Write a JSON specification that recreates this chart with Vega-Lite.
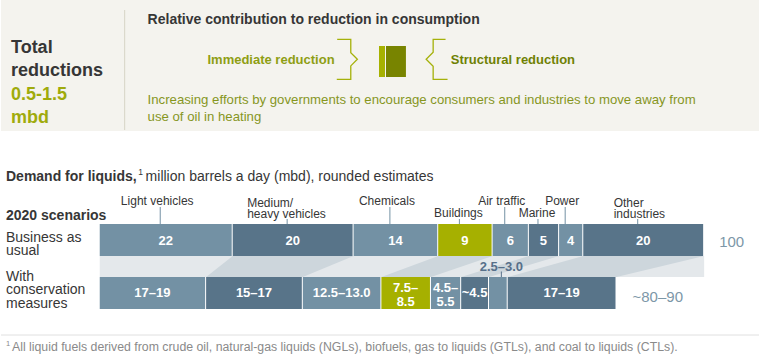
{
  "$schema": "https://vega.github.io/schema/vega-lite/v6.json",
  "width": 760,
  "height": 360,
  "autosize": {"type": "fit", "contains": "padding"},
  "padding": 0,
  "background": "#ffffff",
  "config": {"view": {"stroke": null}, "font": "Liberation Sans", "text": {"font": "Liberation Sans"}},
  "datasets": {
    "one": [{}],
    "demand": [
      {"scenario": "Business as usual", "order": 1, "cat": "Light vehicles", "value": 22, "label": "22"},
      {"scenario": "Business as usual", "order": 2, "cat": "Medium/\nheavy vehicles", "value": 20, "label": "20"},
      {"scenario": "Business as usual", "order": 3, "cat": "Chemicals", "value": 14, "label": "14"},
      {"scenario": "Business as usual", "order": 4, "cat": "Buildings", "value": 9, "label": "9"},
      {"scenario": "Business as usual", "order": 5, "cat": "Air traffic", "value": 6, "label": "6"},
      {"scenario": "Business as usual", "order": 6, "cat": "Marine", "value": 5, "label": "5"},
      {"scenario": "Business as usual", "order": 7, "cat": "Power", "value": 4, "label": "4"},
      {"scenario": "Business as usual", "order": 8, "cat": "Other\nindustries", "value": 20, "label": "20"},
      {"scenario": "With conservation measures", "order": 1, "cat": "Light vehicles", "value": 17.6, "label": "17–19"},
      {"scenario": "With conservation measures", "order": 2, "cat": "Medium/\nheavy vehicles", "value": 16, "label": "15–17"},
      {"scenario": "With conservation measures", "order": 3, "cat": "Chemicals", "value": 13, "label": "12.5–13.0"},
      {"scenario": "With conservation measures", "order": 4, "cat": "Buildings", "value": 8.2, "label": "7.5–\n8.5"},
      {"scenario": "With conservation measures", "order": 5, "cat": "Air traffic", "value": 5, "label": "4.5–\n5.5"},
      {"scenario": "With conservation measures", "order": 6, "cat": "Marine", "value": 4.6, "label": "~4.5"},
      {"scenario": "With conservation measures", "order": 7, "cat": "Power", "value": 3.1, "label": "2.5–3.0"},
      {"scenario": "With conservation measures", "order": 8, "cat": "Other\nindustries", "value": 18, "label": "17–19"}
    ]
  },
  "resolve": {"scale": {"x": "independent", "y": "independent", "color": "independent"}},
  "layer": [
    {
      "data": {"name": "one"},
      "layer": [
        {"mark": {"type": "rect", "fill": "#f4f3ee"},
         "encoding": {"x": {"datum": 0, "type": "quantitative", "scale": {"domain": [0, 760], "nice": false, "zero": false}, "axis": null},
                      "x2": {"datum": 760},
                      "y": {"datum": 0, "type": "quantitative", "scale": {"domain": [0, 360], "reverse": true, "nice": false, "zero": false}, "axis": null},
                      "y2": {"datum": 131}}},
        {"mark": {"type": "rule", "stroke": "#d6d4c6", "strokeWidth": 1},
         "encoding": {"x": {"datum": 124, "type": "quantitative", "scale": {"domain": [0, 760], "nice": false, "zero": false}, "axis": null},
                      "y": {"datum": 10, "type": "quantitative", "scale": {"domain": [0, 360], "reverse": true, "nice": false, "zero": false}, "axis": null},
                      "y2": {"datum": 130}}},
        {"mark": {"type": "rect", "fill": "#e4e8eb"},
         "encoding": {"x": {"datum": 99, "type": "quantitative", "scale": {"domain": [0, 760], "nice": false, "zero": false}, "axis": null},
                      "x2": {"datum": 705},
                      "y": {"datum": 256, "type": "quantitative", "scale": {"domain": [0, 360], "reverse": true, "nice": false, "zero": false}, "axis": null},
                      "y2": {"datum": 277}}},
        {"mark": {"type": "rule", "stroke": "#e0e0e0", "strokeWidth": 1},
         "encoding": {"x": {"datum": 0, "type": "quantitative", "scale": {"domain": [0, 760], "nice": false, "zero": false}, "axis": null},
                      "x2": {"datum": 760},
                      "y": {"datum": 335, "type": "quantitative", "scale": {"domain": [0, 360], "reverse": true, "nice": false, "zero": false}, "axis": null}}},
        {"mark": {"type": "rect", "fill": "#a6b100"},
         "encoding": {"x": {"datum": 379, "type": "quantitative", "scale": {"domain": [0, 760], "nice": false, "zero": false}, "axis": null},
                      "x2": {"datum": 385},
                      "y": {"datum": 46, "type": "quantitative", "scale": {"domain": [0, 360], "reverse": true, "nice": false, "zero": false}, "axis": null},
                      "y2": {"datum": 77}}},
        {"mark": {"type": "rect", "fill": "#788400"},
         "encoding": {"x": {"datum": 386, "type": "quantitative", "scale": {"domain": [0, 760], "nice": false, "zero": false}, "axis": null},
                      "x2": {"datum": 406},
                      "y": {"datum": 46, "type": "quantitative", "scale": {"domain": [0, 360], "reverse": true, "nice": false, "zero": false}, "axis": null},
                      "y2": {"datum": 77}}},
        {"mark": {"type": "point", "shape": "M -0.68 -1 L 0 -1 L 0 -0.33 L 0.33 0 L 0 0.33 L 0 1 L -0.7 1", "size": 1600, "filled": false, "stroke": "#a5b10a", "strokeWidth": 1.3, "opacity": 1},
         "encoding": {"x": {"datum": 350.7, "type": "quantitative", "scale": {"domain": [0, 760], "nice": false, "zero": false}, "axis": null},
                      "y": {"datum": 59.3, "type": "quantitative", "scale": {"domain": [0, 360], "reverse": true, "nice": false, "zero": false}, "axis": null}}},
        {"mark": {"type": "point", "shape": "M 0.62 -1 L 0 -1 L 0 -0.35 L -0.35 0 L 0 0.35 L 0 1 L 0.72 1", "size": 1600, "filled": false, "stroke": "#a5b10a", "strokeWidth": 1.3, "opacity": 1},
         "encoding": {"x": {"datum": 433.3, "type": "quantitative", "scale": {"domain": [0, 760], "nice": false, "zero": false}, "axis": null},
                      "y": {"datum": 59.3, "type": "quantitative", "scale": {"domain": [0, 360], "reverse": true, "nice": false, "zero": false}, "axis": null}}},
        {"mark": {"type": "text", "align": "left", "baseline": "alphabetic", "fontSize": 18, "fontWeight": "bold", "color": "#363636"},
         "encoding": {"x": {"datum": 10, "type": "quantitative", "scale": {"domain": [0, 760], "nice": false, "zero": false}, "axis": null},
                      "y": {"datum": 53.3, "type": "quantitative", "scale": {"domain": [0, 360], "reverse": true, "nice": false, "zero": false}, "axis": null},
                      "text": {"value": "Total"}}},
        {"mark": {"type": "text", "align": "left", "baseline": "alphabetic", "fontSize": 18, "fontWeight": "bold", "color": "#363636"},
         "encoding": {"x": {"datum": 10, "type": "quantitative", "scale": {"domain": [0, 760], "nice": false, "zero": false}, "axis": null},
                      "y": {"datum": 76.3, "type": "quantitative", "scale": {"domain": [0, 360], "reverse": true, "nice": false, "zero": false}, "axis": null},
                      "text": {"value": "reductions"}}},
        {"mark": {"type": "text", "align": "left", "baseline": "alphabetic", "fontSize": 18, "fontWeight": "bold", "color": "#9fab0c"},
         "encoding": {"x": {"datum": 10, "type": "quantitative", "scale": {"domain": [0, 760], "nice": false, "zero": false}, "axis": null},
                      "y": {"datum": 100, "type": "quantitative", "scale": {"domain": [0, 360], "reverse": true, "nice": false, "zero": false}, "axis": null},
                      "text": {"value": "0.5-1.5"}}},
        {"mark": {"type": "text", "align": "left", "baseline": "alphabetic", "fontSize": 18, "fontWeight": "bold", "color": "#9fab0c"},
         "encoding": {"x": {"datum": 10, "type": "quantitative", "scale": {"domain": [0, 760], "nice": false, "zero": false}, "axis": null},
                      "y": {"datum": 122.5, "type": "quantitative", "scale": {"domain": [0, 360], "reverse": true, "nice": false, "zero": false}, "axis": null},
                      "text": {"value": "mbd"}}},
        {"mark": {"type": "text", "align": "left", "baseline": "alphabetic", "fontSize": 14, "fontWeight": "bold", "color": "#363636"},
         "encoding": {"x": {"datum": 147, "type": "quantitative", "scale": {"domain": [0, 760], "nice": false, "zero": false}, "axis": null},
                      "y": {"datum": 24, "type": "quantitative", "scale": {"domain": [0, 360], "reverse": true, "nice": false, "zero": false}, "axis": null},
                      "text": {"value": "Relative contribution to reduction in consumption"}}},
        {"mark": {"type": "text", "align": "left", "baseline": "alphabetic", "fontSize": 13, "fontWeight": "bold", "color": "#8e9e14"},
         "encoding": {"x": {"datum": 207, "type": "quantitative", "scale": {"domain": [0, 760], "nice": false, "zero": false}, "axis": null},
                      "y": {"datum": 64.3, "type": "quantitative", "scale": {"domain": [0, 360], "reverse": true, "nice": false, "zero": false}, "axis": null},
                      "text": {"value": "Immediate reduction"}}},
        {"mark": {"type": "text", "align": "left", "baseline": "alphabetic", "fontSize": 13, "fontWeight": "bold", "color": "#6f8104"},
         "encoding": {"x": {"datum": 451, "type": "quantitative", "scale": {"domain": [0, 760], "nice": false, "zero": false}, "axis": null},
                      "y": {"datum": 63.5, "type": "quantitative", "scale": {"domain": [0, 360], "reverse": true, "nice": false, "zero": false}, "axis": null},
                      "text": {"value": "Structural reduction"}}},
        {"mark": {"type": "text", "align": "left", "baseline": "alphabetic", "fontSize": 13.2, "color": "#86961e"},
         "encoding": {"x": {"datum": 147, "type": "quantitative", "scale": {"domain": [0, 760], "nice": false, "zero": false}, "axis": null},
                      "y": {"datum": 104, "type": "quantitative", "scale": {"domain": [0, 360], "reverse": true, "nice": false, "zero": false}, "axis": null},
                      "text": {"value": "Increasing efforts by governments to encourage consumers and industries to move away from"}}},
        {"mark": {"type": "text", "align": "left", "baseline": "alphabetic", "fontSize": 13.2, "color": "#86961e"},
         "encoding": {"x": {"datum": 147, "type": "quantitative", "scale": {"domain": [0, 760], "nice": false, "zero": false}, "axis": null},
                      "y": {"datum": 120.5, "type": "quantitative", "scale": {"domain": [0, 360], "reverse": true, "nice": false, "zero": false}, "axis": null},
                      "text": {"value": "use of oil in heating"}}},
        {"mark": {"type": "text", "align": "left", "baseline": "alphabetic", "fontSize": 14, "fontWeight": "bold", "color": "#363636"},
         "encoding": {"x": {"datum": 5, "type": "quantitative", "scale": {"domain": [0, 760], "nice": false, "zero": false}, "axis": null},
                      "y": {"datum": 180.7, "type": "quantitative", "scale": {"domain": [0, 360], "reverse": true, "nice": false, "zero": false}, "axis": null},
                      "text": {"value": "Demand for liquids,"}}},
        {"mark": {"type": "text", "align": "left", "baseline": "alphabetic", "fontSize": 8.5, "color": "#363636"},
         "encoding": {"x": {"datum": 137.5, "type": "quantitative", "scale": {"domain": [0, 760], "nice": false, "zero": false}, "axis": null},
                      "y": {"datum": 175, "type": "quantitative", "scale": {"domain": [0, 360], "reverse": true, "nice": false, "zero": false}, "axis": null},
                      "text": {"value": "1"}}},
        {"mark": {"type": "text", "align": "left", "baseline": "alphabetic", "fontSize": 14, "color": "#363636"},
         "encoding": {"x": {"datum": 145, "type": "quantitative", "scale": {"domain": [0, 760], "nice": false, "zero": false}, "axis": null},
                      "y": {"datum": 180.7, "type": "quantitative", "scale": {"domain": [0, 360], "reverse": true, "nice": false, "zero": false}, "axis": null},
                      "text": {"value": "million barrels a day (mbd), rounded estimates"}}},
        {"mark": {"type": "text", "align": "left", "baseline": "alphabetic", "fontSize": 14, "fontWeight": "bold", "color": "#363636"},
         "encoding": {"x": {"datum": 5, "type": "quantitative", "scale": {"domain": [0, 760], "nice": false, "zero": false}, "axis": null},
                      "y": {"datum": 220, "type": "quantitative", "scale": {"domain": [0, 360], "reverse": true, "nice": false, "zero": false}, "axis": null},
                      "text": {"value": "2020 scenarios"}}},
        {"mark": {"type": "text", "align": "left", "baseline": "alphabetic", "fontSize": 14, "color": "#363636"},
         "encoding": {"x": {"datum": 5, "type": "quantitative", "scale": {"domain": [0, 760], "nice": false, "zero": false}, "axis": null},
                      "y": {"datum": 241.7, "type": "quantitative", "scale": {"domain": [0, 360], "reverse": true, "nice": false, "zero": false}, "axis": null},
                      "text": {"value": "Business as"}}},
        {"mark": {"type": "text", "align": "left", "baseline": "alphabetic", "fontSize": 14, "color": "#363636"},
         "encoding": {"x": {"datum": 5, "type": "quantitative", "scale": {"domain": [0, 760], "nice": false, "zero": false}, "axis": null},
                      "y": {"datum": 255.3, "type": "quantitative", "scale": {"domain": [0, 360], "reverse": true, "nice": false, "zero": false}, "axis": null},
                      "text": {"value": "usual"}}},
        {"mark": {"type": "text", "align": "left", "baseline": "alphabetic", "fontSize": 14, "color": "#363636"},
         "encoding": {"x": {"datum": 5, "type": "quantitative", "scale": {"domain": [0, 760], "nice": false, "zero": false}, "axis": null},
                      "y": {"datum": 280.7, "type": "quantitative", "scale": {"domain": [0, 360], "reverse": true, "nice": false, "zero": false}, "axis": null},
                      "text": {"value": "With"}}},
        {"mark": {"type": "text", "align": "left", "baseline": "alphabetic", "fontSize": 14, "color": "#363636"},
         "encoding": {"x": {"datum": 5, "type": "quantitative", "scale": {"domain": [0, 760], "nice": false, "zero": false}, "axis": null},
                      "y": {"datum": 294.3, "type": "quantitative", "scale": {"domain": [0, 360], "reverse": true, "nice": false, "zero": false}, "axis": null},
                      "text": {"value": "conservation"}}},
        {"mark": {"type": "text", "align": "left", "baseline": "alphabetic", "fontSize": 14, "color": "#363636"},
         "encoding": {"x": {"datum": 5, "type": "quantitative", "scale": {"domain": [0, 760], "nice": false, "zero": false}, "axis": null},
                      "y": {"datum": 308.3, "type": "quantitative", "scale": {"domain": [0, 360], "reverse": true, "nice": false, "zero": false}, "axis": null},
                      "text": {"value": "measures"}}},
        {"mark": {"type": "text", "align": "left", "baseline": "alphabetic", "fontSize": 7.5, "color": "#8a8a8a"},
         "encoding": {"x": {"datum": 5, "type": "quantitative", "scale": {"domain": [0, 760], "nice": false, "zero": false}, "axis": null},
                      "y": {"datum": 346, "type": "quantitative", "scale": {"domain": [0, 360], "reverse": true, "nice": false, "zero": false}, "axis": null},
                      "text": {"value": "1"}}},
        {"mark": {"type": "text", "align": "left", "baseline": "alphabetic", "fontSize": 12.3, "color": "#8a8a8a"},
         "encoding": {"x": {"datum": 11, "type": "quantitative", "scale": {"domain": [0, 760], "nice": false, "zero": false}, "axis": null},
                      "y": {"datum": 351, "type": "quantitative", "scale": {"domain": [0, 360], "reverse": true, "nice": false, "zero": false}, "axis": null},
                      "text": {"value": "All liquid fuels derived from crude oil, natural-gas liquids (NGLs), biofuels, gas to liquids (GTLs), and coal to liquids (CTLs)."}}}
      ]
    },
    {
      "data": {"name": "demand"},
      "transform": [
        {"stack": "value", "groupby": ["scenario"], "sort": [{"field": "order", "order": "ascending"}], "as": ["start", "end"]},
        {"filter": {"field": "cat", "oneOf": ["Medium/\nheavy vehicles", "Buildings", "Marine", "Other\nindustries"]}}
      ],
      "mark": {"type": "area", "orient": "horizontal", "fill": "#cdd6dc", "opacity": 1},
      "encoding": {
        "y": {"field": "scenario", "type": "nominal", "scale": {"type": "point", "domain": ["Business as usual", "With conservation measures"], "range": [256, 277], "padding": 0}, "axis": null},
        "x": {"field": "start", "type": "quantitative", "stack": null, "scale": {"domain": [-16.337, 109.076], "nice": false, "zero": false}, "axis": null},
        "x2": {"field": "end"},
        "detail": {"field": "cat"}
      }
    },
    {
      "data": {"name": "demand"},
      "transform": [
        {"stack": "value", "groupby": ["scenario"], "sort": [{"field": "order", "order": "ascending"}], "as": ["start", "end"]}
      ],
      "layer": [
        {"transform": [{"filter": {"field": "scenario", "equal": "Business as usual"}}],
         "mark": {"type": "rect", "x2Offset": -1},
         "encoding": {"x": {"field": "start", "type": "quantitative", "scale": {"domain": [-16.337, 109.076], "nice": false, "zero": false}, "axis": null},
                      "x2": {"field": "end"},
                      "y": {"datum": 224, "type": "quantitative", "scale": {"domain": [0, 360], "reverse": true, "nice": false, "zero": false}, "axis": null},
                      "y2": {"datum": 256},
                      "color": {"field": "cat", "type": "nominal", "legend": null,
                                "scale": {"domain": ["Light vehicles", "Medium/\nheavy vehicles", "Chemicals", "Buildings", "Air traffic", "Marine", "Power", "Other\nindustries"],
                                          "range": ["#7391a4", "#587489", "#7391a4", "#a6b000", "#7391a4", "#587489", "#7391a4", "#587489"]}}}},
        {"transform": [{"filter": {"field": "scenario", "equal": "With conservation measures"}}],
         "mark": {"type": "rect", "x2Offset": -1},
         "encoding": {"x": {"field": "start", "type": "quantitative", "scale": {"domain": [-16.337, 109.076], "nice": false, "zero": false}, "axis": null},
                      "x2": {"field": "end"},
                      "y": {"datum": 277, "type": "quantitative", "scale": {"domain": [0, 360], "reverse": true, "nice": false, "zero": false}, "axis": null},
                      "y2": {"datum": 309},
                      "color": {"field": "cat", "type": "nominal", "legend": null}}},
        {"transform": [
           {"filter": {"field": "scenario", "equal": "Business as usual"}},
           {"fold": ["start", "end"], "as": ["k", "pos"]},
           {"aggregate": [{"op": "mean", "field": "pos", "as": "mid"}], "groupby": ["cat", "label", "order"]}],
         "mark": {"type": "text", "align": "center", "baseline": "middle", "fontSize": 13, "fontWeight": "bold", "color": "#ffffff", "dx": -0.5},
         "encoding": {"x": {"field": "mid", "type": "quantitative", "scale": {"domain": [-16.337, 109.076], "nice": false, "zero": false}, "axis": null},
                      "y": {"datum": 241, "type": "quantitative", "scale": {"domain": [0, 360], "reverse": true, "nice": false, "zero": false}, "axis": null},
                      "text": {"field": "label"}}},
        {"transform": [
           {"filter": {"field": "scenario", "equal": "With conservation measures"}},
           {"filter": {"field": "order", "oneOf": [1, 2, 3, 6, 8]}},
           {"fold": ["start", "end"], "as": ["k", "pos"]},
           {"aggregate": [{"op": "mean", "field": "pos", "as": "mid"}], "groupby": ["cat", "label", "order"]}],
         "mark": {"type": "text", "align": "center", "baseline": "middle", "fontSize": 13, "fontWeight": "bold", "color": "#ffffff", "dx": -0.5},
         "encoding": {"x": {"field": "mid", "type": "quantitative", "scale": {"domain": [-16.337, 109.076], "nice": false, "zero": false}, "axis": null},
                      "y": {"datum": 292.8, "type": "quantitative", "scale": {"domain": [0, 360], "reverse": true, "nice": false, "zero": false}, "axis": null},
                      "text": {"field": "label"}}},
        {"transform": [
           {"filter": {"field": "scenario", "equal": "With conservation measures"}},
           {"filter": {"field": "order", "oneOf": [4, 5]}},
           {"fold": ["start", "end"], "as": ["k", "pos"]},
           {"aggregate": [{"op": "mean", "field": "pos", "as": "mid"}], "groupby": ["cat", "label", "order"]}],
         "mark": {"type": "text", "align": "center", "baseline": "middle", "fontSize": 13, "fontWeight": "bold", "color": "#ffffff", "lineBreak": "\n", "lineHeight": 13.7, "dx": -0.5},
         "encoding": {"x": {"field": "mid", "type": "quantitative", "scale": {"domain": [-16.337, 109.076], "nice": false, "zero": false}, "axis": null},
                      "y": {"datum": 288.3, "type": "quantitative", "scale": {"domain": [0, 360], "reverse": true, "nice": false, "zero": false}, "axis": null},
                      "text": {"field": "label"}}},
        {"transform": [
           {"filter": {"field": "scenario", "equal": "With conservation measures"}},
           {"filter": {"field": "order", "equal": 7}},
           {"fold": ["start", "end"], "as": ["k", "pos"]},
           {"aggregate": [{"op": "mean", "field": "pos", "as": "mid"}], "groupby": ["cat", "label", "order"]}],
         "layer": [
           {"mark": {"type": "text", "align": "center", "baseline": "alphabetic", "fontSize": 13, "fontWeight": "bold", "color": "#57708a", "dx": 3},
            "encoding": {"x": {"field": "mid", "type": "quantitative", "scale": {"domain": [-16.337, 109.076], "nice": false, "zero": false}, "axis": null},
                         "y": {"datum": 270.5, "type": "quantitative", "scale": {"domain": [0, 360], "reverse": true, "nice": false, "zero": false}, "axis": null},
                         "text": {"field": "label"}}},
           {"mark": {"type": "rule", "stroke": "#57708a", "strokeWidth": 1, "xOffset": 3},
            "encoding": {"x": {"field": "mid", "type": "quantitative", "scale": {"domain": [-16.337, 109.076], "nice": false, "zero": false}, "axis": null},
                         "y": {"datum": 271.5, "type": "quantitative", "scale": {"domain": [0, 360], "reverse": true, "nice": false, "zero": false}, "axis": null},
                         "y2": {"datum": 277}}}
         ]},
        {"transform": [
           {"filter": {"field": "scenario", "equal": "Business as usual"}},
           {"filter": {"field": "cat", "oneOf": ["Light vehicles", "Chemicals", "Air traffic", "Power"]}},
           {"fold": ["start", "end"], "as": ["k", "pos"]},
           {"aggregate": [{"op": "mean", "field": "pos", "as": "mid"}], "groupby": ["cat"]}],
         "layer": [
           {"mark": {"type": "rule", "stroke": "#7391a4", "strokeWidth": 1, "xOffset": -6},
            "encoding": {"x": {"field": "mid", "type": "quantitative", "scale": {"domain": [-16.337, 109.076], "nice": false, "zero": false}, "axis": null},
                         "y": {"datum": 207, "type": "quantitative", "scale": {"domain": [0, 360], "reverse": true, "nice": false, "zero": false}, "axis": null},
                         "y2": {"datum": 224}}},
           {"mark": {"type": "text", "align": "center", "baseline": "middle", "fontSize": 12, "color": "#363636", "dx": -9},
            "encoding": {"x": {"field": "mid", "type": "quantitative", "scale": {"domain": [-16.337, 109.076], "nice": false, "zero": false}, "axis": null},
                         "y": {"datum": 200.7, "type": "quantitative", "scale": {"domain": [0, 360], "reverse": true, "nice": false, "zero": false}, "axis": null},
                         "text": {"field": "cat"}}}
         ]},
        {"transform": [
           {"filter": {"field": "scenario", "equal": "Business as usual"}},
           {"filter": {"field": "cat", "oneOf": ["Medium/\nheavy vehicles", "Buildings", "Marine", "Other\nindustries"]}},
           {"fold": ["start", "end"], "as": ["k", "pos"]},
           {"aggregate": [{"op": "mean", "field": "pos", "as": "mid"}], "groupby": ["cat"]}],
         "layer": [
           {"mark": {"type": "rule", "stroke": "#7391a4", "strokeWidth": 1, "xOffset": -6},
            "encoding": {"x": {"field": "mid", "type": "quantitative", "scale": {"domain": [-16.337, 109.076], "nice": false, "zero": false}, "axis": null},
                         "y": {"datum": 219, "type": "quantitative", "scale": {"domain": [0, 360], "reverse": true, "nice": false, "zero": false}, "axis": null},
                         "y2": {"datum": 224}}},
           {"transform": [{"filter": {"field": "cat", "oneOf": ["Buildings", "Marine"]}}],
            "mark": {"type": "text", "align": "center", "baseline": "middle", "fontSize": 12, "color": "#363636", "dx": -7},
            "encoding": {"x": {"field": "mid", "type": "quantitative", "scale": {"domain": [-16.337, 109.076], "nice": false, "zero": false}, "axis": null},
                         "y": {"datum": 213.3, "type": "quantitative", "scale": {"domain": [0, 360], "reverse": true, "nice": false, "zero": false}, "axis": null},
                         "text": {"field": "cat"}}},
           {"transform": [{"filter": {"field": "cat", "equal": "Medium/\nheavy vehicles"}}],
            "mark": {"type": "text", "align": "left", "baseline": "middle", "fontSize": 12, "color": "#363636", "dx": -46, "lineBreak": "\n", "lineHeight": 10.6},
            "encoding": {"x": {"field": "mid", "type": "quantitative", "scale": {"domain": [-16.337, 109.076], "nice": false, "zero": false}, "axis": null},
                         "y": {"datum": 203.4, "type": "quantitative", "scale": {"domain": [0, 360], "reverse": true, "nice": false, "zero": false}, "axis": null},
                         "text": {"field": "cat"}}},
           {"transform": [{"filter": {"field": "cat", "equal": "Other\nindustries"}}],
            "mark": {"type": "text", "align": "left", "baseline": "middle", "fontSize": 12, "color": "#363636", "dx": -30, "lineBreak": "\n", "lineHeight": 10.6},
            "encoding": {"x": {"field": "mid", "type": "quantitative", "scale": {"domain": [-16.337, 109.076], "nice": false, "zero": false}, "axis": null},
                         "y": {"datum": 203.4, "type": "quantitative", "scale": {"domain": [0, 360], "reverse": true, "nice": false, "zero": false}, "axis": null},
                         "text": {"field": "cat"}}}
         ]},
        {"data": {"name": "one"},
         "mark": {"type": "text", "align": "left", "baseline": "alphabetic", "fontSize": 15, "color": "#7d97a8", "dx": 15},
         "encoding": {"x": {"datum": 100, "type": "quantitative", "scale": {"domain": [-16.337, 109.076], "nice": false, "zero": false}, "axis": null},
                      "y": {"datum": 247.3, "type": "quantitative", "scale": {"domain": [0, 360], "reverse": true, "nice": false, "zero": false}, "axis": null},
                      "text": {"value": "100"}}},
        {"data": {"name": "one"},
         "mark": {"type": "text", "align": "left", "baseline": "alphabetic", "fontSize": 15, "color": "#7d97a8", "dx": 16},
         "encoding": {"x": {"datum": 85.5, "type": "quantitative", "scale": {"domain": [-16.337, 109.076], "nice": false, "zero": false}, "axis": null},
                      "y": {"datum": 301.7, "type": "quantitative", "scale": {"domain": [0, 360], "reverse": true, "nice": false, "zero": false}, "axis": null},
                      "text": {"value": "~80–90"}}}
      ]
    }
  ]
}
